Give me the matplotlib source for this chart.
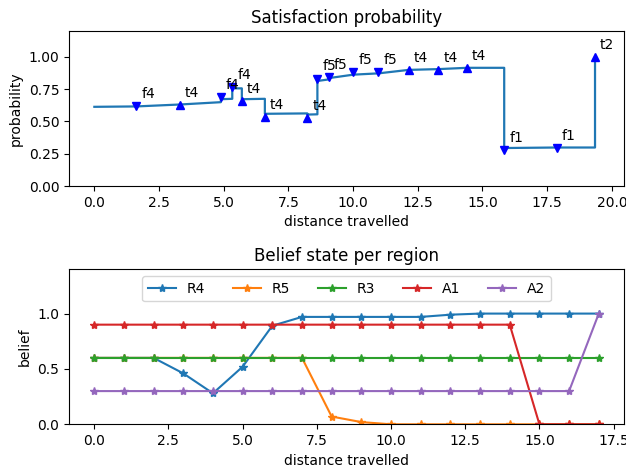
import matplotlib
matplotlib.use("Agg")
import matplotlib.pyplot as plt

# ---- top chart: satisfaction probability path ----
path_dist = [0.0, 1.62, 3.31, 4.89, 4.89, 5.33, 5.33, 5.70, 5.70, 6.59, 6.59,
             8.23, 8.23, 8.62, 8.62, 9.05, 9.05, 10.01, 10.98, 12.15, 13.30,
             14.40, 15.84, 15.84, 17.87, 19.35, 19.35]
path_prob = [0.613, 0.616, 0.631, 0.649, 0.672, 0.675, 0.756, 0.756, 0.672, 0.675, 0.559,
             0.562, 0.553, 0.555, 0.813, 0.825, 0.835, 0.862, 0.872, 0.899, 0.905,
             0.915, 0.915, 0.294, 0.298, 0.298, 0.99]

event_dist = [1.62, 3.31, 4.89, 5.33, 5.70, 6.59, 8.23, 8.62, 9.05, 10.01, 10.98,
              12.15, 13.30, 14.40, 15.84, 17.87, 19.35]
event_prob = [0.621, 0.624, 0.690, 0.765, 0.655, 0.535, 0.528, 0.832, 0.845, 0.883, 0.883,
              0.895, 0.900, 0.910, 0.280, 0.294, 0.995]
event_label = ["f4", "t4", "f4", "f4", "t4", "t4", "t4", "f5", "f5", "f5", "f5",
               "t4", "t4", "t4", "f1", "f1", "t2"]

# ---- bottom chart: belief state per region ----
steps = list(range(18))
belief_R4 = [0.6, 0.6, 0.6, 0.46, 0.28, 0.52, 0.89, 0.97, 0.97, 0.97, 0.97, 0.97,
             0.99, 1.0, 1.0, 1.0, 1.0, 1.0]
belief_R5 = [0.6, 0.6, 0.6, 0.6, 0.6, 0.6, 0.6, 0.6, 0.07, 0.02, 0.0, 0.0,
             0.0, 0.0, 0.0, 0.0, 0.0, 0.0]
belief_R3 = [0.6] * 18
belief_A1 = [0.9] * 15 + [0.0, 0.0, 0.0]
belief_A2 = [0.3] * 17 + [1.0]
region_names = ["R4", "R5", "R3", "A1", "A2"]

fig = plt.figure(figsize=(6.26, 4.70), dpi=100)
ax1 = fig.add_axes([69 / 626, 1 - 186 / 470, (624 - 69) / 626, (186 - 31) / 470])
ax2 = fig.add_axes([69 / 626, 1 - 424.3 / 470, (624 - 69) / 626, (424.3 - 269.3) / 470])

ax1.plot(path_dist, path_prob, color="C0", lw=1.6)
for x, y, lab in zip(event_dist, event_prob, event_label):
    m = "v" if lab.startswith("f") else "^"
    ax1.plot([x], [y], marker=m, color="b", linestyle="none", markersize=6)
    ax1.annotate(lab, (x, y), xytext=(3.6, 5.8), textcoords="offset points",
                 va="baseline", ha="left", fontsize=10)
ax1.set_xlim(-0.98, 20.47)
ax1.set_ylim(0, 1.2)
ax1.set_yticks([0.0, 0.25, 0.5, 0.75, 1.0])
ax1.set_title("Satisfaction probability")
ax1.set_xlabel("distance travelled")
ax1.set_ylabel("probability")

for vals, name in zip([belief_R4, belief_R5, belief_R3, belief_A1, belief_A2], region_names):
    ax2.plot(steps, vals, marker="*", label=name)
ax2.set_ylim(0, 1.4)
ax2.set_yticks([0.0, 0.5, 1.0])
ax2.set_title("Belief state per region")
ax2.set_xlabel("distance travelled")
ax2.set_ylabel("belief")
ax2.legend(loc="upper center", ncol=5)

fig.savefig("out.png", dpi=100)
